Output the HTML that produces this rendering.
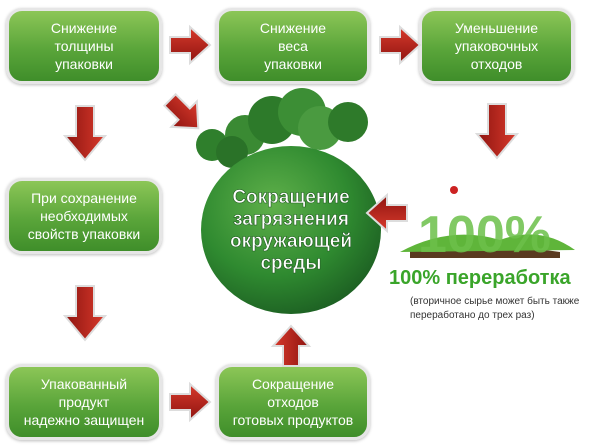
<!DOCTYPE html>
<html><head><meta charset="utf-8"><style>
body{margin:0;background:#fff;width:600px;height:445px;overflow:hidden;position:relative;font-family:"Liberation Sans",sans-serif}
.b{position:absolute;box-sizing:border-box;border:3px solid #e6e6e6;border-radius:16px;background:linear-gradient(#8cc657,#5aa53a 55%,#3f8e2a);color:#fff;font-size:14px;line-height:18px;text-align:center;display:flex;align-items:center;justify-content:center;box-shadow:0 1px 3px #bbb}
svg{position:absolute;left:0;top:0}
</style></head><body>
<div class="b" style="left:6px;top:8px;width:156px;height:76px">Снижение<br>толщины<br>упаковки</div>
<div class="b" style="left:216px;top:8px;width:154px;height:76px">Снижение<br>веса<br>упаковки</div>
<div class="b" style="left:419px;top:8px;width:155px;height:76px">Уменьшение<br>упаковочных<br>отходов</div>
<div class="b" style="left:6px;top:178px;width:156px;height:76px">При сохранение<br>необходимых<br>свойств упаковки</div>
<div class="b" style="left:6px;top:364px;width:156px;height:76px">Упакованный<br>продукт<br>надежно защищен</div>
<div class="b" style="left:216px;top:364px;width:154px;height:76px">Сокращение<br>отходов<br>готовых продуктов</div>
<svg width="600" height="445">
<defs>
<radialGradient id="g" cx="40%" cy="35%" r="70%"><stop offset="0" stop-color="#5fb04a"/><stop offset=".6" stop-color="#2f8a30"/><stop offset="1" stop-color="#1c5e22"/></radialGradient>
<linearGradient id="r" x1="0" y1="0" x2="0" y2="1"><stop offset="0" stop-color="#d83a2c"/><stop offset="1" stop-color="#8e1410"/></linearGradient>
<g id="ar"><path d="M0,-8 L20,-8 L20,-18 L40,0 L20,18 L20,8 L0,8Z" fill="url(#r)" stroke="#ddd" stroke-width="2"/></g>
<g id="al"><path d="M0,-9 L30,-9 L30,-20 L54,0 L30,20 L30,9 L0,9Z" fill="url(#r)" stroke="#ddd" stroke-width="2"/></g>
</defs>
<circle cx="212" cy="145" r="16" fill="#2f7f2c"/>
<circle cx="245" cy="135" r="20" fill="#3a8a33"/>
<circle cx="272" cy="120" r="24" fill="#2d7a2a"/>
<circle cx="302" cy="112" r="24" fill="#3c8e35"/>
<circle cx="320" cy="128" r="22" fill="#4a9a40"/>
<circle cx="348" cy="122" r="20" fill="#2e7a2a"/>
<circle cx="232" cy="152" r="16" fill="#2a7228"/>
<ellipse cx="291" cy="230" rx="90" ry="84" fill="url(#g)"/>
<g font-weight="bold" font-size="19" fill="#fff" text-anchor="middle" stroke="#1f5a1f" stroke-width=".6">
<text x="291" y="203">Сокращение</text><text x="291" y="225">загрязнения</text><text x="291" y="247">окружающей</text><text x="291" y="269">среды</text></g>
<use href="#ar" x="170" y="45"/>
<use href="#ar" x="380" y="45"/>
<use href="#ar" transform="translate(170,402)"/>
<use href="#al" transform="translate(85,106) rotate(90)"/>
<use href="#al" transform="translate(85,286) rotate(90)"/>
<use href="#al" transform="translate(497,104) rotate(90)"/>
<use href="#ar" transform="translate(291,366) rotate(-90)"/>
<use href="#ar" transform="translate(407,213) rotate(180)"/>
<use href="#ar" transform="translate(170,100) rotate(45)"/>
<path d="M410,250 Q480,240 560,252 L560,258 L410,258Z" fill="#5a3a20"/>
<path d="M400,252 Q450,225 500,240 Q540,225 575,250Z" fill="#5fb53a"/>
<text x="418" y="252" font-size="52" font-weight="bold" fill="#6cc04a" opacity=".85">100%</text>
<circle cx="454" cy="190" r="4" fill="#c22"/>
<text x="389" y="284" font-size="20" font-weight="bold" fill="#3aa52a">100% переработка</text>
<text x="410" y="304" font-size="10" fill="#333">(вторичное сырье может быть также</text>
<text x="410" y="318" font-size="10" fill="#333">переработано до трех раз)</text>
</svg>
</body></html>
